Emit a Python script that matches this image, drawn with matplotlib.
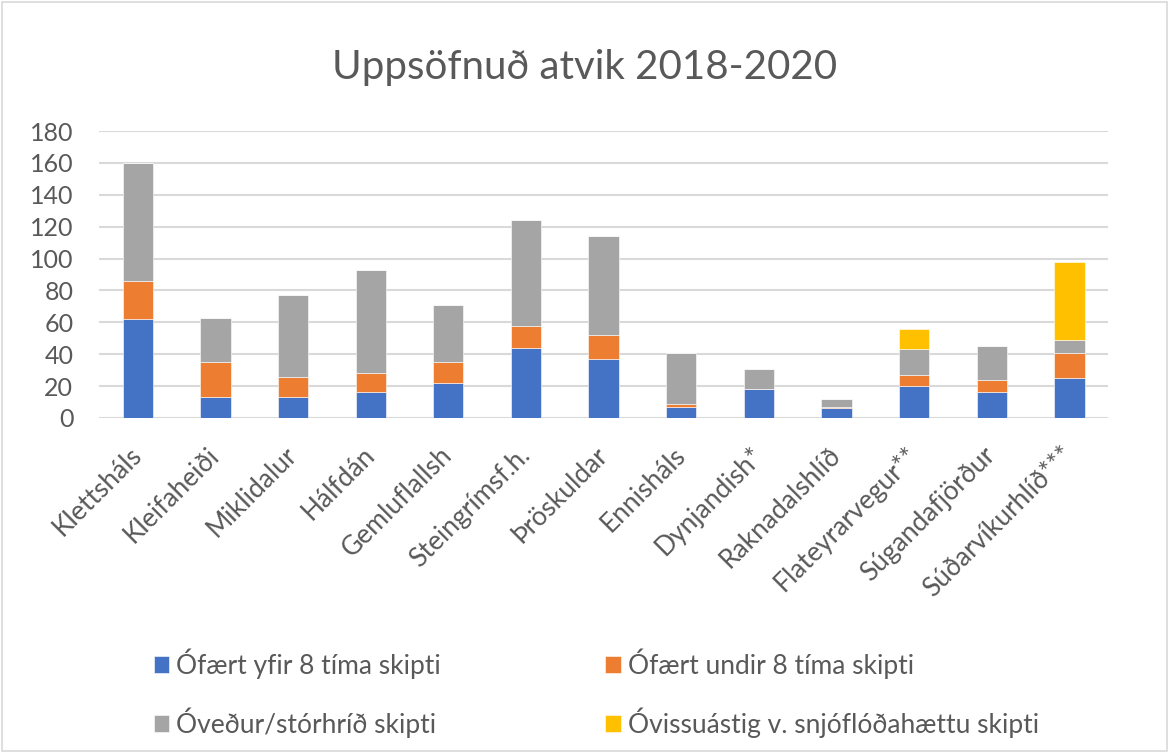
import matplotlib
matplotlib.use('Agg')
import matplotlib.pyplot as plt
from matplotlib.patches import Rectangle
import numpy as np

plt.rcParams['font.family'] = ['Lato', 'DejaVu Sans']

# data
vegir = ['Klettsháls', 'Kleifaheiði', 'Miklidalur', 'Hálfdán', 'Gemluflallsh',
         'Steingrímsf.h.', 'Þröskuldar', 'Ennisháls', 'Dynjandish*',
         'Raknadalshlíð', 'Flateyrarvegur**', 'Súgandafjörður', 'Súðarvíkurhlíð***']
ofaert_yfir = [62, 13, 13, 16, 22, 44, 37, 7, 18, 6, 20, 16, 25]
ofaert_undir = [24, 22, 13, 12, 13, 14, 15, 2, 0, 1, 7, 8, 16]
ovedur = [74, 28, 51, 65, 36, 66, 62, 32, 13, 5, 16, 21, 8]
ovissustig = [0, 0, 0, 0, 0, 0, 0, 0, 0, 0, 13, 0, 49]

labels = ['Ófært yfir 8 tíma skipti', 'Ófært undir 8 tíma skipti',
          'Óveður/stórhríð skipti', 'Óvissuástig v. snjóflóðahættu skipti']
colors = ['#4472C4', '#ED7D31', '#A5A5A5', '#FFC000']
txt = '#595959'

fig = plt.figure(figsize=(11.69, 7.53), dpi=100)
ax = fig.add_axes([0.0847, 0.4449, 0.8633, 0.3811])

x = np.arange(len(vegir))
bottom = np.zeros(len(vegir))
bars = []
for vals, lab, col in zip([ofaert_yfir, ofaert_undir, ovedur, ovissustig], labels, colors):
    b = ax.bar(x, vals, 0.39, bottom=bottom, color=col, label=lab,
               edgecolor='white', linewidth=0.4, zorder=3)
    bars.append(b)
    bottom += np.array(vals)

ax.set_xlim(-0.5, len(vegir) - 0.5)
ax.set_ylim(0, 180)
ax.set_yticks(range(0, 181, 20))
ax.yaxis.grid(True, color='#D9D9D9', linewidth=1.5, zorder=0)
for s in ax.spines.values():
    s.set_visible(False)
ax.tick_params(axis='both', length=0, colors=txt)
ax.tick_params(axis='y', pad=18.5, labelsize=18)
ax.tick_params(axis='x', pad=24, labelsize=19)
ax.set_xticks(x)
ax.set_xticklabels(vegir, rotation=45, ha='right', va='center', rotation_mode='anchor')

fig.text(0.5, 0.91, 'Uppsöfnuð atvik 2018-2020', ha='center', va='center',
         fontsize=29, color=txt)

# legend: blue/grey in first column, orange/yellow in second
order = [0, 2, 1, 3]
fig.legend([bars[i] for i in order], [labels[i] for i in order], ncol=2,
           loc='center left', bbox_to_anchor=(0.111, 0.080), frameon=False,
           fontsize=19, labelcolor=txt, handlelength=0.6, handleheight=0.6,
           handletextpad=0.27, labelspacing=1.08, columnspacing=6.2)

# light border round the chart
fig.patches.append(Rectangle((0.002, 0.002), 0.996, 0.996, transform=fig.transFigure,
                             fill=False, edgecolor='#D9D9D9', linewidth=1.2))

fig.savefig('out.png', dpi=100)
